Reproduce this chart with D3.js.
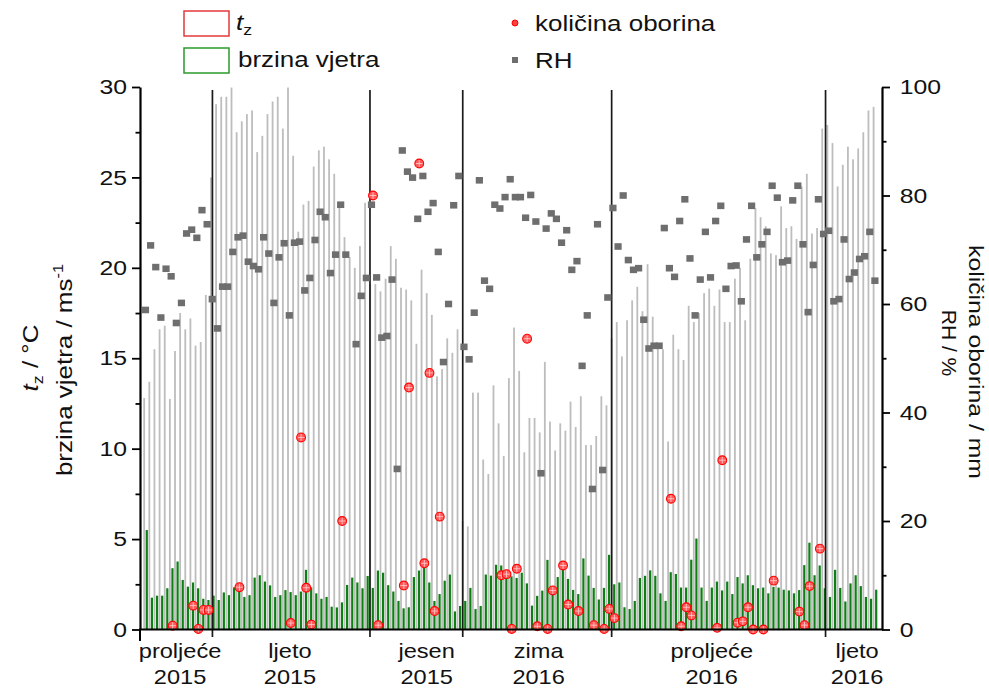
<!DOCTYPE html>
<html><head><meta charset="utf-8">
<script src="https://cdn.jsdelivr.net/npm/d3@7"></script>
<style>
body{margin:0;background:#fff}
svg{display:block}
text{font-family:"Liberation Sans",Arial,sans-serif;fill:#111}
</style>
</head><body>
<svg id="c" width="989" height="690"></svg>
<script>
// ---------------- DATA ----------------
// air temperature t_z (°C), one value per sample (left axis)
const tz = [
12.8,13.7,15.5,16.6,16.8,12.75,15.4,17.5,16.6,17.2,15.7,15.9,18.5,
25.0,29.05,29.46,29.46,29.97,27.5,28.1,28.5,28.7,26.4,27.3,28.5,29.2,29.46,27.7,29.97,26.2,22.0,23.5,23.7,25.6,26.5,26.7,26.0,25.2,23.5,21.7,20.6,20.0,21.2,23.6,
19.1,19.1,18.7,19.4,21.2,20.5,18.9,18.8,18.2,15.8,19.9,18.6,17.4,14.0,14.4,16.1,15.3,16.6,
6.0,5.7,13.1,13.1,9.4,8.6,13.5,11.4,9.6,13.9,16.7,14.3,9.8,11.7,11.7,10.9,14.8,11.5,9.9,11.4,11.0,12.6,11.2,12.9,10.2,10.2,10.7,12.9,12.4,
16.1,17.0,15.1,17.1,18.2,18.95,17.6,20.2,17.3,15.7,15.5,10.4,16.3,15.5,14.9,17.9,17.0,17.5,18.6,18.85,17.9,18.8,17.0,17.0,19.4,20.0,17.1,
20.5,23.3,22.8,22.3,20.8,20.7,23.4,22.2,22.3,21.6,24.5,25.2,21.9,22.2,
27.7,
27.9,26.9,24.5,25.7,26.7,26.0,26.6,27.5,28.7,28.9];
// wind speed (m/s), left axis
const wind = [
5.5,1.76,1.87,1.87,2.28,3.39,3.76,2.74,2.37,2.6,2.28,1.7,1.63,
1.87,1.63,2.05,1.9,2.33,2.2,1.8,1.9,2.87,3.0,2.65,2.44,1.8,1.9,2.18,2.07,1.9,2.1,3.3,2.33,2.0,1.7,1.8,1.26,1.22,1.5,2.46,2.87,2.6,2.28,2.96,
2.3,3.26,3.14,2.45,2.1,1.58,1.17,1.23,2.9,3.26,3.54,2.6,1.58,1.96,2.7,3.04,1.0,1.3,
1.58,2.3,1.13,1.3,3.04,2.98,3.58,3.54,3.14,2.94,2.85,3.14,2.55,1.32,1.86,2.15,3.85,2.08,2.9,3.66,2.8,2.19,1.96,3.93,2.98,2.3,1.66,2.3,4.13,
2.5,2.6,1.23,1.13,1.58,2.85,2.97,3.27,2.97,2.0,1.58,3.17,3.07,2.32,2.32,3.86,5.03,2.32,1.58,2.32,2.65,2.16,2.65,1.96,2.9,2.55,3.0,
2.45,2.28,2.32,2.0,2.36,2.32,2.2,2.16,2.0,2.18,3.56,4.8,3.0,3.54,
2.28,
1.8,3.3,2.3,1.55,2.55,3.0,2.4,1.8,1.7,2.2];
// relative humidity RH (%), right axis (null = no value)
const rh = [
58.9,70.8,66.8,57.5,66.5,65.1,56.5,60.2,73.0,73.7,72.2,77.3,74.7,
60.9,55.5,63.2,63.2,69.6,72.3,72.6,67.8,67.0,66.4,72.3,69.3,60.2,68.6,71.2,57.9,71.3,71.5,62.5,64.8,71.8,77.0,76.0,65.7,69.1,78.3,69.1,null,52.6,61.5,64.8,
78.3,64.9,53.8,54.1,64.5,29.6,88.3,84.4,83.3,75.7,83.6,77.0,78.6,69.6,49.3,60.0,78.2,83.6,
52.1,49.8,58.4,82.8,64.3,62.8,78.3,77.6,79.7,83.0,79.7,79.7,75.9,80.1,75.2,28.8,73.9,76.7,75.7,71.3,73.6,66.3,67.9,48.6,57.9,25.9,74.7,29.4,61.2,
77.7,70.6,80.0,68.1,66.3,66.6,57.1,51.8,52.3,52.3,74.0,66.6,65.0,75.3,79.3,68.4,57.9,64.5,73.3,64.9,75.3,78.1,62.8,67.0,67.1,60.5,71.9,
78.1,68.6,71.0,73.3,81.8,79.6,67.7,68.0,79.1,81.8,71.0,58.5,67.2,79.3,
72.9,
73.5,60.5,60.9,71.9,64.6,65.8,68.3,68.8,73.3,64.3];
// precipitation amount (mm), right axis: sample index and value
const precipSample = [5,9,10,11,12,18,28,30,31,32,38,44,45,50,51,53,54,55,56,57,69,70,71,72,74,76,78,79,81,82,84,87,89,90,91,102,104,105,106,111,112,115,116,117,118,120,122,127,128,129,131];
const precipMm     = [0.7,4.4,0.1,3.6,3.6,7.8,1.2,35.4,7.7,0.9,20.0,80.0,0.8,8.1,44.6,85.9,12.2,47.3,3.4,20.8,10.0,10.2,0.1,11.2,53.6,0.6,0.1,7.2,11.8,4.6,3.4,0.8,0.1,3.8,2.1,24.1,0.6,4.1,2.6,0.3,31.2,1.25,1.5,4.1,0,0,9.0,3.3,0.8,8.0,14.9];
// season boundaries (in sample-index units) and season names
const seasonBreaks = [12.8, 43.47, 61.53, 90.52, 132.16];
const seasonNames = ["proljeće","ljeto","jesen","zima","proljeće","ljeto"];
const seasonYears = ["2015","2015","2015","2016","2016","2016"];
const leftTicks = [0,5,10,15,20,25,30];
const leftMinor = [2.5,7.5,12.5,17.5,22.5,27.5];
const rightTicks = [0,20,40,60,80,100];
const rightMinor = [10,30,50,70,90];

// ---------------- LAYOUT ----------------
const seasonLabelAt = [6.5, 27.9, 54.5, 76.3, 110.0, 138.3];
const SX = 1.18;
const svg = d3.select("#c");
const x = d3.scaleLinear().domain([-1.3, 143.15]).range([140, 882]);
const yL = d3.scaleLinear().domain([0, 30]).range([629.5, 87]);
const yR = d3.scaleLinear().domain([0, 100]).range([629.5, 87]);

function label(px, py, rot, anchor, size, sx) {
  const g = svg.append("g").attr("transform", `translate(${px},${py}) rotate(${rot}) scale(${sx===undefined?SX:sx},1)`);
  return g.append("text").attr("text-anchor", anchor).attr("font-size", size);
}

// bars
svg.append("g").selectAll("rect").data(tz).join("rect")
  .attr("x", (d,i) => x(i) - 3.4).attr("width", 1.8)
  .attr("y", d => yL(d)).attr("height", d => yL(0) - yL(d))
  .attr("fill", "#bdbdbd");
svg.append("g").selectAll("rect").data(wind).join("rect")
  .attr("x", (d,i) => x(i) - 1.0).attr("width", 2.2)
  .attr("y", d => yL(d)).attr("height", d => yL(0) - yL(d))
  .attr("fill", "#0e7f14");

// season dividers
svg.append("g").selectAll("line").data(seasonBreaks).join("line")
  .attr("x1", d => x(d)).attr("x2", d => x(d))
  .attr("y1", 90).attr("y2", 637)
  .attr("stroke", "#1a1a1a").attr("stroke-width", 1.7);

// RH squares
const rhPts = rh.map((v,i) => ({v, i})).filter(d => d.v != null);
svg.append("g").selectAll("rect").data(rhPts).join("rect")
  .attr("x", d => x(d.i) - 1.2 - 3.6).attr("y", d => yR(d.v) - 3.3)
  .attr("width", 7.2).attr("height", 6.6)
  .attr("fill", "#6e6e6e");

// precipitation markers
const prPts = precipSample.map((s,k) => ({i: s, v: precipMm[k]}));
const pg = svg.append("g").selectAll("g").data(prPts).join("g")
  .attr("transform", d => `translate(${x(d.i) + 0.3},${yR(d.v)})`);
pg.append("circle").attr("r", 4.4).attr("fill", "#ff5a5a").attr("stroke", "#ff0000").attr("stroke-width", 1.1);
pg.append("line").attr("x1", -3.4).attr("x2", 3.4).attr("stroke", "#ffd2d2").attr("stroke-width", 0.8);
pg.append("line").attr("y1", -3.4).attr("y2", 3.4).attr("stroke", "#ffd2d2").attr("stroke-width", 0.8);

// axes
function styleAxis(g) {
  g.selectAll("path.domain").attr("stroke", "#000").attr("stroke-width", 2.2);
  g.selectAll(".tick line").attr("stroke", "#000").attr("stroke-width", 1.8);
  g.selectAll(".tick text").attr("font-size", 21).attr("fill", "#111")
    .attr("font-family", '"Liberation Sans",Arial,sans-serif')
    .attr("transform", `scale(${SX},1)`);
}
const gl = svg.append("g").attr("transform", "translate(140,0)")
  .call(d3.axisLeft(yL).tickValues(leftTicks).tickSize(8).tickSizeOuter(0).tickPadding(3).tickFormat(d3.format("d")));
styleAxis(gl);
const glm = svg.append("g").attr("transform", "translate(140,0)")
  .call(d3.axisLeft(yL).tickValues(leftMinor).tickSize(4.5).tickFormat(""));
glm.select("path.domain").remove(); styleAxis(glm);

const gr = svg.append("g").attr("transform", "translate(882,0)")
  .call(d3.axisRight(yR).tickValues(rightTicks).tickSize(8).tickSizeOuter(0).tickPadding(7).tickFormat(d3.format("d")));
styleAxis(gr);
const grm = svg.append("g").attr("transform", "translate(882,0)")
  .call(d3.axisRight(yR).tickValues(rightMinor).tickSize(4.5).tickFormat(""));
grm.select("path.domain").remove(); styleAxis(grm);

// bottom axis line and left-end tick
svg.append("line").attr("x1", 139).attr("x2", 883).attr("y1", 629.5).attr("y2", 629.5)
  .attr("stroke", "#000").attr("stroke-width", 2.2);
svg.append("line").attr("x1", x(-1.3)).attr("x2", x(-1.3)).attr("y1", 629.5).attr("y2", 641)
  .attr("stroke", "#000").attr("stroke-width", 2);

// season labels
seasonNames.forEach((n, k) => {
  label(x(seasonLabelAt[k]), 658, 0, "middle", 20).text(n);
  label(x(seasonLabelAt[k]), 684, 0, "middle", 20).text(seasonYears[k]);
});

// axis titles
const t1 = label(38, 358, -90, "middle", 22);
t1.append("tspan").attr("font-style", "italic").text("t");
t1.append("tspan").attr("font-size", 15).attr("dy", 5).text("z");
t1.append("tspan").attr("dy", -5).text(" / °C");
const t2 = label(72, 370, -90, "middle", 22);
t2.append("tspan").text("brzina vjetra / ms");
t2.append("tspan").attr("font-size", 14).attr("dy", -9).text("-1");
label(942, 343, 90, "middle", 21, 1.0).text("RH / %");
label(969, 362, 90, "middle", 21).text("količina oborina / mm");

// legend
svg.append("rect").attr("x", 184).attr("y", 11).attr("width", 45).attr("height", 25)
  .attr("fill", "none").attr("stroke", "#e4393b").attr("stroke-width", 1.5);
svg.append("rect").attr("x", 184).attr("y", 48).attr("width", 45).attr("height", 25)
  .attr("fill", "none").attr("stroke", "#2a9a2a").attr("stroke-width", 1.5);
const lt = label(236, 30, 0, "start", 22);
lt.append("tspan").attr("font-style", "italic").text("t");
lt.append("tspan").attr("font-size", 15).attr("dy", 5).text("z");
label(238, 67, 0, "start", 22).text("brzina vjetra");
svg.append("circle").attr("cx", 515).attr("cy", 23).attr("r", 3).attr("fill", "#ff4040").attr("stroke", "#ff0000");
label(535, 31, 0, "start", 22).text("količina oborina");
svg.append("rect").attr("x", 512).attr("y", 57).attr("width", 6).attr("height", 6).attr("fill", "#6e6e6e");
label(535, 68, 0, "start", 22).text("RH");
</script>
</body></html>
